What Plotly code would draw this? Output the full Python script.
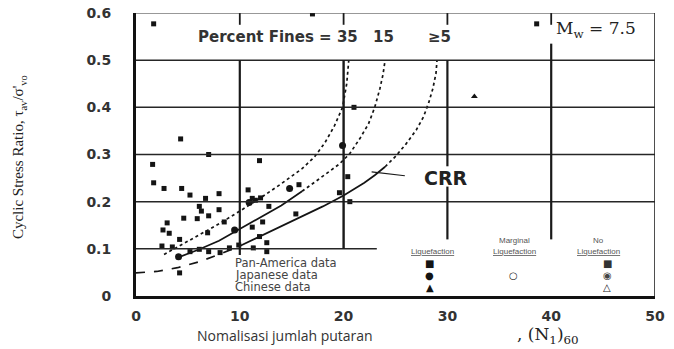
import plotly.graph_objects as go

# ---------------- data ----------------
x_ticks = [0, 10, 20, 30, 40, 50]
x_tick_text = ["0", "10", "20", "30", "40", "50"]
y_ticks = [0, 0.1, 0.2, 0.3, 0.4, 0.5, 0.6]
y_tick_text = ["0", "0.1", "0.2", "0.3", "0.4", "0.5", "0.6"]

# CRR clean-sand curve (fines <= 5 %)
crr_dash_n = [0, 2, 4, 6, 8, 10]
crr_dash_v = [0.049, 0.052, 0.060, 0.072, 0.088, 0.106]
crr_solid_n = [10, 12, 14, 16, 18, 20, 22, 23, 24]
crr_solid_v = [0.106, 0.127, 0.148, 0.168, 0.190, 0.213, 0.240, 0.256, 0.274]
crr_dot_n = [24, 25, 26, 27, 27.7, 28.2, 28.6, 28.9, 29.0]
crr_dot_v = [0.274, 0.296, 0.322, 0.352, 0.380, 0.410, 0.440, 0.472, 0.500]

# 15 % fines curve
p15_solid_n = [4.2, 6, 8, 10, 12, 14, 16]
p15_solid_v = [0.083, 0.098, 0.117, 0.142, 0.166, 0.192, 0.222]
p15_dot_n = [16, 17.5, 18.5, 19.6, 20.6, 21.6, 22.4, 23.0, 23.5, 23.8, 24.0]
p15_dot_v = [0.222, 0.245, 0.262, 0.280, 0.302, 0.335, 0.365, 0.400, 0.440, 0.470, 0.500]

# 35 % fines curve
p35_n = [2.7, 4, 6, 8, 10, 12, 14, 16, 17.2, 18.2, 19.1, 19.9, 20.3, 20.5]
p35_v = [0.088, 0.104, 0.128, 0.153, 0.180, 0.208, 0.238, 0.270, 0.295, 0.325, 0.360, 0.400, 0.450, 0.500]

# field case points
sq_n = [1.7, 17.0, 38.6, 4.3, 7.0, 1.6, 11.9, 21.0, 20.4, 20.6, 19.6,
        1.7, 2.7, 4.4, 5.2, 6.7, 8.0, 10.8, 11.5, 11.2, 12.0, 15.7,
        6.1, 6.3, 8.0, 4.6, 5.9, 7.0, 8.5, 11.2, 12.2, 3.0, 2.6, 3.2,
        4.2, 6.9, 11.9, 15.4, 2.5, 3.5, 5.2, 6.1, 7.0, 8.1, 9.0, 9.9,
        11.3, 12.6, 12.6, 4.2, 12.8]
sq_v = [0.577, 0.598, 0.577, 0.333, 0.300, 0.279, 0.287, 0.400, 0.253, 0.200, 0.219,
        0.240, 0.228, 0.228, 0.214, 0.207, 0.217, 0.225, 0.203, 0.207, 0.208, 0.236,
        0.190, 0.180, 0.183, 0.165, 0.164, 0.170, 0.157, 0.146, 0.157, 0.155, 0.140, 0.133,
        0.120, 0.134, 0.126, 0.174, 0.106, 0.104, 0.094, 0.099, 0.094, 0.092, 0.102, 0.108,
        0.102, 0.113, 0.094, 0.049, 0.190]
ci_n = [19.9, 9.5, 10.9, 14.8, 4.1]
ci_v = [0.319, 0.140, 0.198, 0.228, 0.083]
tri_n = [32.6]
tri_v = [0.423]

INK = "#141414"

fig = go.Figure()

def curve(xs, ys, dash, width=1.7):
    fig.add_trace(go.Scatter(x=xs, y=ys, mode="lines", line=dict(color=INK, width=width, dash=dash),
                             hoverinfo="skip", showlegend=False))

curve(crr_dash_n, crr_dash_v, "dash")
curve(crr_solid_n, crr_solid_v, "solid")
curve(crr_dot_n, crr_dot_v, "dot")
curve(p15_solid_n, p15_solid_v, "solid")
curve(p15_dot_n, p15_dot_v, "dot")
curve(p35_n, p35_v, "dot")

fig.add_trace(go.Scatter(x=sq_n, y=sq_v, mode="markers",
                         marker=dict(symbol="square", size=5, color=INK), showlegend=False))
fig.add_trace(go.Scatter(x=ci_n, y=ci_v, mode="markers",
                         marker=dict(symbol="circle", size=7, color=INK), showlegend=False))
fig.add_trace(go.Scatter(x=tri_n, y=tri_v, mode="markers",
                         marker=dict(symbol="triangle-up", size=6, color=INK), showlegend=False))

# ---------------- grid / frame lines ----------------
shapes = []
def seg(x0, y0, x1, y1, w=1.6, c="#1a1a1a"):
    shapes.append(dict(type="line", xref="x", yref="y",
                       x0=x0, y0=y0, x1=x1, y1=y1, line=dict(color=c, width=w)))

for yv in [0.2, 0.3, 0.4, 0.5]:
    seg(0, yv, 50, yv, 1.5, "#262626")
seg(0, 0.1, 23.2, 0.1, 1.5, "#262626")
for xv in [10, 20, 30, 40]:
    seg(xv, 0.6, xv, 0.575, 1.8)
seg(10, 0.5, 10, 0.087, 2.2)
seg(20, 0.5, 20, 0.10, 2.4)
seg(30, 0.5, 30, 0.275, 2.2)
seg(30, 0.232, 30, 0.12, 2.2)
seg(40, 0.535, 40, 0.12, 2.2)
seg(22.7, 0.263, 25.9, 0.255, 1.2)   # CRR pointer
seg(0, 0.6, 50, 0.6, 1.2, "#333")
seg(50, 0.6, 50, 0, 1.6, "#222")

# ---------------- text ----------------
ann = []
def txt(x, y, s, size=13, family="DejaVu Sans", color="#222", xanchor="center",
        yanchor="middle", xref="x", yref="y", angle=0, weight="normal"):
    ann.append(dict(x=x, y=y, xref=xref, yref=yref, text=s, showarrow=False,
                    xanchor=xanchor, yanchor=yanchor, textangle=angle,
                    font=dict(size=size, family=family, color=color, weight=weight)))

txt(21.6, 0.549, "Percent Fines = 35", 15, xanchor="right", color="#333", weight="bold")
txt(23.8, 0.549, "15", 15, color="#333", weight="bold")
txt(29.2, 0.549, "\u22655", 15, color="#333", weight="bold")
txt(40.3, 0.566, "M<sub>w</sub> = 7.5", 17, family="DejaVu Serif", xanchor="left", color="#222")
txt(29.9, 0.251, "CRR", 19, color="#222", weight="bold")

txt(9.3, 0.069, "Pan-America data", 11.5, xanchor="left", color="#444")
txt(9.3, 0.044, "Japanese data", 11.5, xanchor="left", color="#444")
txt(9.3, 0.019, "Chinese data", 11.5, xanchor="left", color="#444")

txt(28.6, 0.095, "<u>Liquefaction</u>", 8, family="Liberation Sans", color="#555")
txt(36.5, 0.118, "Marginal", 8, family="Liberation Sans", color="#555")
txt(36.5, 0.095, "<u>Liquefaction</u>", 8, family="Liberation Sans", color="#555")
txt(44.6, 0.118, "No", 8, family="Liberation Sans", color="#555")
txt(44.6, 0.095, "<u>Liquefaction</u>", 8, family="Liberation Sans", color="#555")

txt(28.3, 0.069, "\u25a0", 10, color=INK)
txt(28.3, 0.044, "\u25cf", 10, color=INK)
txt(28.3, 0.019, "\u25b2", 10, color=INK)
txt(36.4, 0.044, "\u25cb", 10, color="#222")
txt(45.4, 0.069, "\u25a0", 10, color="#333")
txt(45.4, 0.044, "\u25c9", 10, color="#444")
txt(45.4, 0.019, "\u25b3", 10, color="#222")

txt(-0.224, 0.49, "Cyclic Stress Ratio, \u03c4<sub>av</sub>/\u03c3'<sub>vo</sub>", 15,
    family="Liberation Serif", xref="paper", yref="paper", angle=-90, color="#222")
txt(0.287, -0.138, "Nomalisasi jumlah putaran", 14, family="Open Sans", xref="paper", yref="paper",
    color="#333")
txt(0.794, -0.138, ", (N<sub>1</sub>)<sub>60</sub>", 17, family="DejaVu Serif", xref="paper",
    yref="paper", color="#222")

# page body keeps the browser's 8 px default margin, so the figure is sized to fit inside it
fig.update_layout(
    width=666, height=341,
    margin=dict(l=128, r=19, t=5, b=53, autoexpand=False),
    paper_bgcolor="white", plot_bgcolor="white",
    shapes=shapes, annotations=ann, showlegend=False,
    xaxis=dict(range=[0, 50], tickvals=x_ticks, ticktext=x_tick_text, showgrid=False, zeroline=False,
               showline=True, linecolor="#111", linewidth=3, ticks="", ticklabelstandoff=5,
               automargin=False, ticklabeloverflow="allow",
               tickfont=dict(family="DejaVu Sans", size=14, color="#333", weight="bold")),
    yaxis=dict(range=[0, 0.6], tickvals=y_ticks, ticktext=y_tick_text, showgrid=False, zeroline=False,
               showline=True, linecolor="#111", linewidth=3, ticks="", ticklabelstandoff=19,
               automargin=False, ticklabeloverflow="allow",
               tickfont=dict(family="DejaVu Sans", size=14, color="#333", weight="bold")),
)

fig.write_html("out.html")
